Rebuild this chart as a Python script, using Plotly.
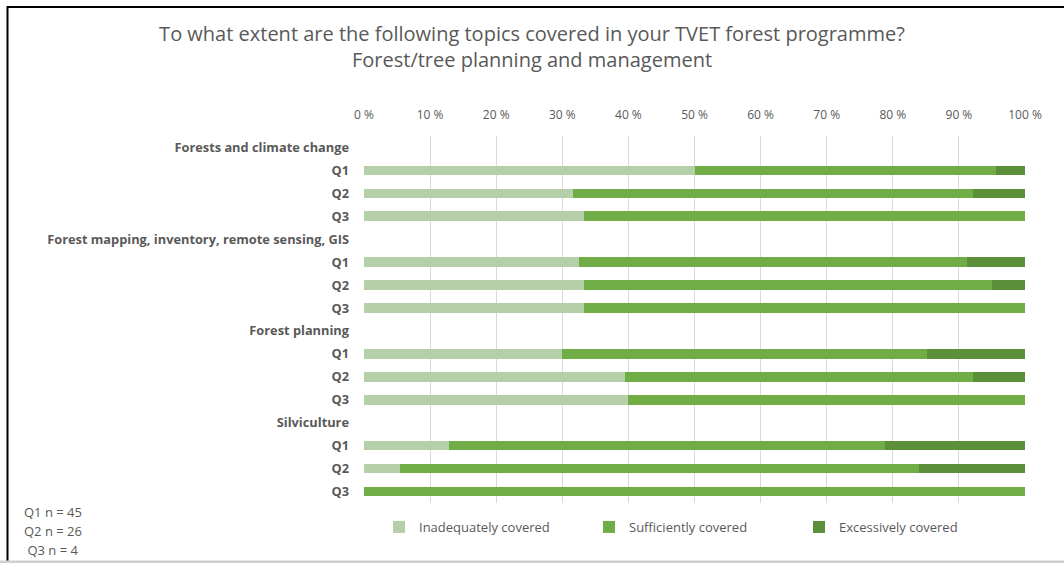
import plotly.graph_objects as go

# ---- data ----
topics = ["Forests and climate change",
          "Forest mapping, inventory, remote sensing, GIS",
          "Forest planning",
          "Silviculture"]
questions = ["Q1", "Q2", "Q3"]
# values per topic x question (percent), in order topic1 Q1..Q3, topic2 Q1..Q3, ...
inadequate = [50.0, 31.6, 33.3,
              32.6, 33.3, 33.3,
              29.9, 39.5, 40.0,
              12.9, 5.4, 0.0]
sufficient = [45.6, 60.6, 66.7,
              58.7, 61.7, 66.7,
              55.3, 52.7, 60.0,
              65.9, 78.5, 100.0]
excessive = [4.4, 7.8, 0.0,
             8.7, 5.0, 0.0,
             14.8, 7.8, 0.0,
             21.2, 16.1, 0.0]
series_names = ["Inadequately covered", "Sufficiently covered", "Excessively covered"]
x_ticks = [0, 10, 20, 30, 40, 50, 60, 70, 80, 90, 100]
notes = ["Q1 n = 45", "Q2 n = 26", " Q3 n = 4"]

colors = ["#B5D0A8", "#70AD47", "#5B8F3A"]

# ---- build rows ----
row_labels = []
bar_rows = []
for t in topics:
    row_labels.append(t)
    for q in questions:
        bar_rows.append(len(row_labels))
        row_labels.append(q)

W, H = 1064, 563
L, R, T, B = 364, 1025, 136, 503

fig = go.Figure()
for name, vals, col in zip(series_names, [inadequate, sufficient, excessive], colors):
    fig.add_trace(go.Bar(
        x=vals, y=bar_rows, name=name, orientation="h",
        marker=dict(color=col, line=dict(width=0)),
        width=0.42,
    ))

def px(x):
    return (x - L) / (R - L)

def py(y):
    return (B - y) / (B - T)

fig.update_layout(
    barmode="stack",
    width=W, height=H,
    margin=dict(l=L, r=W - R, t=T, b=H - B),
    paper_bgcolor="white", plot_bgcolor="white",
    font=dict(family="Open Sans", color="#595959", size=11),
    title=dict(
        text="To what extent are the following topics covered in your TVET forest programme?<br>Forest/tree planning and management",
        x=0.5, xanchor="center", y=1 - 40.5 / H, yanchor="middle",
        font=dict(family="Open Sans", size=20, color="#595959"),
    ),
    xaxis=dict(
        side="top", range=[0, 100], tickvals=x_ticks,
        ticktext=[f"{v} %" for v in x_ticks],
        showgrid=True, gridcolor="#D9D9D9", gridwidth=1,
        zeroline=False, showline=False, ticks="",
        ticklabelstandoff=14,
        tickfont=dict(size=12, color="#595959"),
        fixedrange=True,
    ),
    yaxis=dict(
        range=[len(row_labels) - 0.5, -0.5],
        tickvals=list(range(len(row_labels))),
        ticktext=[f"<b>{s}</b>" for s in row_labels],
        showgrid=False, zeroline=False, showline=False, ticks="",
        ticklabelstandoff=14,
        tickfont=dict(size=12.8, color="#595959"),
        fixedrange=True,
    ),
    legend=dict(
        orientation="h", x=px(379), xanchor="left",
        y=py(527), yanchor="middle",
        font=dict(size=13, color="#595959"),
        entrywidth=165, itemwidth=30,
        traceorder="normal", bgcolor="rgba(0,0,0,0)",
    ),
    showlegend=True,
)

for i, n in enumerate(notes):
    fig.add_annotation(
        text=n, xref="paper", yref="paper",
        x=px(22), xanchor="left", y=py(512 + i * 19), yanchor="middle",
        showarrow=False, font=dict(size=13, color="#595959"),
    )

# frame: black band then white inner panel (drawn below the plot), grey bottom line
fig.add_shape(type="rect", xref="paper", yref="paper",
              x0=px(6.5), x1=px(W + 20), y0=py(6), y1=py(H + 20),
              line=dict(width=0), fillcolor="black", layer="below")
fig.add_shape(type="rect", xref="paper", yref="paper",
              x0=px(8.5), x1=px(W + 20), y0=py(8), y1=py(H + 20),
              line=dict(width=0), fillcolor="white", layer="below")
fig.add_shape(type="line", xref="paper", yref="paper",
              x0=px(0), x1=px(W), y0=py(562), y1=py(562),
              line=dict(color="#D0D0D0", width=3))

fig.write_html("out.html", config={"displayModeBar": False},
               post_script="document.body.style.margin='0';document.body.style.overflow='hidden';")
